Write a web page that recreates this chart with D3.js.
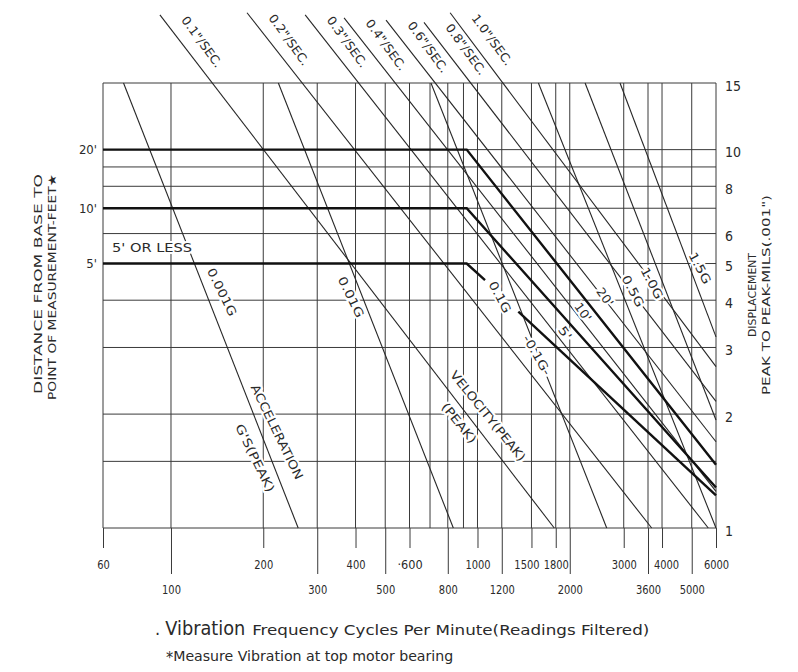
<!DOCTYPE html>
<html>
<head>
<meta charset="utf-8">
<script src="https://cdnjs.cloudflare.com/ajax/libs/d3/7.8.5/d3.min.js"></script>
<style>
  body { margin: 0; background: #fff; }
  text { font-family: "Liberation Sans Narrow", "DejaVu Sans Condensed", "Liberation Sans", sans-serif; fill: #2a2a2a; }
  .halo { stroke: #fff; stroke-width: 4px; paint-order: stroke; stroke-linejoin: round; }
</style>
</head>
<body>
<div id="chart"></div>
<script>
// frequency (cycles per minute) and displacement (mils peak to peak)
var xGrid = [60, 100, 200, 300, 400, 500, 600, 700, 800, 900, 1000, 1200, 1500, 1800, 2000, 3000, 3600, 4000, 5000, 6000];
var xTicksShort = [60, 200, 400, 600, 1000, 1500, 1800, 3000, 4000, 6000];
var xTicksLong = [100, 300, 500, 800, 1200, 2000, 3600, 5000];
var yGrid = [1, 1.5, 2, 3, 4, 5, 6, 7, 8, 9, 10, 15];
var yTicks = [1, 2, 3, 4, 5, 6, 8, 10, 15];

// constant velocity lines (in/sec peak), start above the grid, end on the bottom / right edge
var velocityNames = ['0.1"/SEC.', '0.2"/SEC.', '0.3"/SEC.', '0.4"/SEC.', '0.6"/SEC.', '0.8"/SEC.', '1.0"/SEC.'];
var velocityStart = [[92, 22.7], [177, 23.0], [274, 22.7], [367, 22.3], [503, 22.0], [669, 21.7], [814, 23.0]];
var velocityEnd = [[1780, 1], [3701, 1], [5662, 1], [6000, 1.25], [6000, 1.69], [6000, 2.16], [6000, 2.67]];

// constant acceleration lines (g peak)
var accelNames = ["0.001G", "0.01G", "0.1G", "0.5G", "1.0G", "1.5G"];
var accelStart = [[70, 15], [224, 15], [705, 15], [1580, 15], [2244, 15], [2917, 15]];
var accelEnd = [[260, 1], [834, 1], [2640, 1], [6000, 1], [6000, 1.93], [6000, 3.2]];

// distance from base criteria (heavy lines)
var distanceNames = ["20'", "10'", "5'"];
var distance20 = [[60, 10], [922, 10], [6000, 1.47]];
var distance10 = [[60, 7], [922, 7], [6000, 1.28]];
var distance5a = [[60, 5], [922, 5], [1058, 4.52]];
var distance5b = [[1359, 3.73], [6000, 1.22]];

var svgWidth = 798;
var svgHeight = 672;

var svg = d3.select("#chart")
  .append("svg")
  .attr("width", svgWidth)
  .attr("height", svgHeight);

var x = d3.scaleLog().domain([60, 6000]).range([103, 716]);
var y = d3.scaleLog().domain([1, 15]).range([528, 83]);

var line = d3.line()
  .x(d => x(d[0]))
  .y(d => y(d[1]));

// grid
var grid = svg.append("g").attr("stroke", "#3a3a3a").attr("stroke-width", 1);
grid.selectAll("line.v").data(xGrid).enter().append("line")
  .attr("class", "v")
  .attr("x1", d => x(d)).attr("x2", d => x(d))
  .attr("y1", y(15)).attr("y2", y(1));
grid.selectAll("line.h").data(yGrid).enter().append("line")
  .attr("class", "h")
  .attr("x1", x(60)).attr("x2", x(6000))
  .attr("y1", d => y(d)).attr("y2", d => y(d));

// bottom axis, two rows of labels
var fmt = d => d === 600 ? "\u00b7600" : String(d);
var axShort = svg.append("g")
  .attr("transform", `translate(0, ${y(1)})`)
  .call(d3.axisBottom(x).tickValues(xTicksShort).tickSize(20).tickPadding(12).tickFormat(fmt));
var axLong = svg.append("g")
  .attr("transform", `translate(0, ${y(1)})`)
  .call(d3.axisBottom(x).tickValues(xTicksLong).tickSize(46).tickPadding(11).tickFormat(fmt));
[axShort, axLong].forEach(function(ax) {
  ax.select(".domain").remove();
  ax.selectAll(".tick line").attr("stroke", "#3a3a3a");
  ax.selectAll(".tick text").attr("font-size", 13).attr("fill", "#2a2a2a")
    .attr("textLength", d => fmt(d).length * 6.3)
    .attr("lengthAdjust", "spacingAndGlyphs")
    .style("font-family", '"Liberation Sans Narrow", "DejaVu Sans Condensed", sans-serif');
});
// nudge the crowded 1500 / 4000 labels the way the original does
axShort.selectAll(".tick text").attr("dx", d => d === 1500 ? -5 : (d === 4000 ? 4 : 0));

// right axis labels
var ax = svg.append("g")
  .attr("transform", `translate(${x(6000)}, 0)`)
  .call(d3.axisRight(y).tickValues(yTicks).tickSize(0).tickPadding(9).tickFormat(d3.format("d")));
ax.select(".domain").remove();
ax.selectAll(".tick text").attr("font-size", 14).attr("dy", "0.5em")
  .style("font-family", '"Liberation Sans Narrow", "DejaVu Sans Condensed", sans-serif');

// diagonal lines
var diag = svg.append("g").attr("fill", "none").attr("stroke", "#262626").attr("stroke-width", 1.1);
diag.selectAll("path.vel").data(velocityNames).enter().append("path")
  .attr("class", "vel")
  .attr("d", (d, i) => line([velocityStart[i], velocityEnd[i]]));
diag.selectAll("path.acc").data(accelNames).enter().append("path")
  .attr("class", "acc")
  .attr("d", (d, i) => line([accelStart[i], accelEnd[i]]));

// heavy distance lines
var heavy = svg.append("g").attr("fill", "none").attr("stroke", "#111").attr("stroke-width", 2.4);
[distance20, distance10, distance5a, distance5b].forEach(function(pts) {
  heavy.append("path").attr("d", line(pts));
});

// velocity labels at the top, parallel to their lines
svg.selectAll("text.vlab").data(velocityNames).enter().append("text")
  .attr("class", "vlab")
  .attr("transform", (d, i) => `translate(${x(velocityStart[i][0]) + 42}, ${y(velocityStart[i][1]) + 27}) rotate(54)`)
  .attr("text-anchor", "middle")
  .attr("dy", "0.35em")
  .attr("font-size", 12)
  .attr("textLength", 60)
  .attr("lengthAdjust", "spacingAndGlyphs")
  .text(d => d);

// labels inside the chart
function note(txt, cx, cy, ang, size, len) {
  var t = svg.append("text")
    .attr("class", "halo")
    .attr("transform", `translate(${cx}, ${cy}) rotate(${ang})`)
    .attr("text-anchor", "middle")
    .attr("dy", "0.35em")
    .attr("font-size", size)
    .text(txt);
  if (len) t.attr("textLength", len).attr("lengthAdjust", "spacingAndGlyphs");
  return t;
}
note(accelNames[0], 222, 292, 64, 12, 52);
note("ACCELERATION", 277, 432, 64, 12, 104);
note("G'S(PEAK)", 255, 458, 64, 12, 74);
note(accelNames[1], 351, 297, 64, 12, 44);
note("VELOCITY(PEAK)", 488, 416, 51, 12, 112);
note("(PEAK)", 459, 423, 51, 12, 48);
note(accelNames[2], 500, 297, 62, 12, 34);
note("-" + accelNames[2] + "-", 537, 355, 60, 12, 44);
note(distanceNames[2], 565, 333, 55, 12, 14);
note(distanceNames[1], 583, 312, 55, 12, 20);
note(distanceNames[0], 605, 297, 55, 12, 20);
note(accelNames[3], 633, 291, 62, 12, 34);
note(accelNames[4], 652, 283, 62, 12, 34);
note(accelNames[5], 700, 268, 62, 12, 34);

// left distance labels
var leftLevels = [10, 7, 5];
svg.selectAll("text.dlab").data(distanceNames).enter().append("text")
  .attr("class", "dlab")
  .attr("x", 97)
  .attr("y", (d, i) => y(leftLevels[i]))
  .attr("dy", "0.35em")
  .attr("text-anchor", "end")
  .attr("font-size", 13)
  .text(d => d);

svg.append("text")
  .attr("class", "halo")
  .attr("x", 112).attr("y", y(5) - 12)
  .attr("font-size", 12)
  .attr("textLength", 80)
  .attr("lengthAdjust", "spacingAndGlyphs")
  .text("5' OR LESS");

// axis titles
function vtitle(txt, cx, cy, len, size) {
  svg.append("text")
    .attr("transform", `translate(${cx}, ${cy}) rotate(-90)`)
    .attr("text-anchor", "middle")
    .attr("dy", "0.35em")
    .attr("font-size", size)
    .attr("textLength", len)
    .attr("lengthAdjust", "spacingAndGlyphs")
    .text(txt);
}
vtitle("DISTANCE FROM BASE TO", 38, 284, 220, 11);
vtitle("POINT OF MEASUREMENT-FEET\u2605", 52, 287, 226, 11);
vtitle("DISPLACEMENT", 752, 295, 84, 11);
vtitle('PEAK TO PEAK-MILS(.001")', 766, 295, 200, 11);

var title = svg.append("text").attr("x", 155).attr("y", 635);
title.append("tspan").attr("font-size", 18).text(". ");
title.append("tspan").attr("font-size", 19).attr("textLength", 80).attr("lengthAdjust", "spacingAndGlyphs").text("Vibration");
title.append("tspan").attr("dx", 7).attr("font-size", 14).attr("textLength", 397).attr("lengthAdjust", "spacingAndGlyphs")
  .text("Frequency Cycles Per Minute(Readings Filtered)");

var foot = svg.append("text").attr("x", 166).attr("y", 661);
foot.append("tspan").attr("font-size", 16).attr("dy", 2).text("*");
foot.append("tspan").attr("dy", -2).attr("font-size", 13.5).attr("textLength", 280).attr("lengthAdjust", "spacingAndGlyphs")
  .text("Measure Vibration at top motor bearing");
</script>
</body>
</html>
